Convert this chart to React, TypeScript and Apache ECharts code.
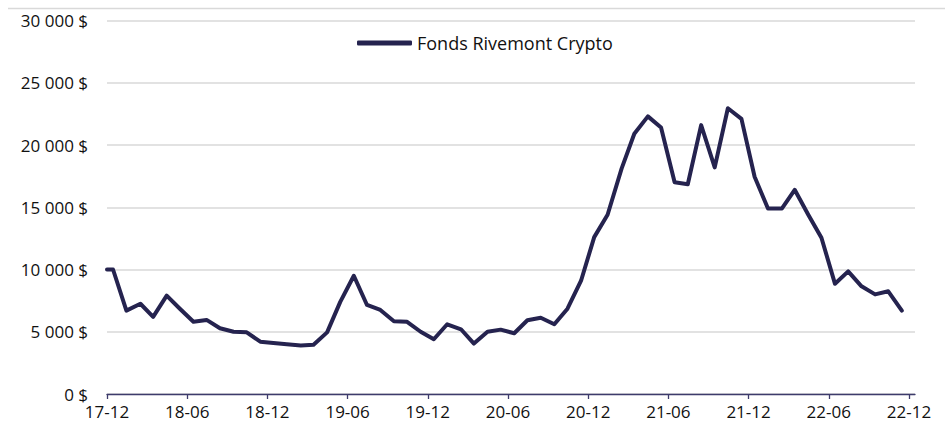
import React, { useEffect, useRef } from "react";
import * as echarts from "echarts";

const dates = [
  "2017-12-01", "2017-12-15", "2018-01-15", "2018-02-15", "2018-03-15", "2018-04-15", "2018-05-15",
  "2018-06-15", "2018-07-15", "2018-08-15", "2018-09-15", "2018-10-15", "2018-11-15",
  "2018-12-15", "2019-01-15", "2019-02-15", "2019-03-15", "2019-04-15", "2019-05-15",
  "2019-06-15", "2019-07-15", "2019-08-15", "2019-09-15", "2019-10-15", "2019-11-15",
  "2019-12-15", "2020-01-15", "2020-02-15", "2020-03-15", "2020-04-15", "2020-05-15",
  "2020-06-15", "2020-07-15", "2020-08-15", "2020-09-15", "2020-10-15", "2020-11-15",
  "2020-12-15", "2021-01-15", "2021-02-15", "2021-03-15", "2021-04-15", "2021-05-15",
  "2021-06-15", "2021-07-15", "2021-08-15", "2021-09-15", "2021-10-15", "2021-11-15",
  "2021-12-15", "2022-01-15", "2022-02-15", "2022-03-15", "2022-04-15", "2022-05-15",
  "2022-06-15", "2022-07-15", "2022-08-15", "2022-09-15", "2022-10-15", "2022-11-15",
];

const fundValues = [
  10000, 10000, 6700, 7250, 6200, 7900, 6850,
  5800, 5950, 5280, 5000, 4950, 4200,
  4100, 4000, 3900, 3950, 4950, 7400,
  9500, 7150, 6750, 5850, 5800, 5000,
  4400, 5600, 5200, 4050, 5000, 5170,
  4880, 5920, 6130, 5600, 6850, 9100,
  12600, 14400, 18100, 20900, 22300, 21400,
  17000, 16850, 21600, 18200, 22950, 22100,
  17450, 14900, 14900, 16400, 14400, 12550,
  8850, 9850, 8650, 8000, 8250, 6700,
];

const tickDates = [
  "2017-12-01", "2018-06-01", "2018-12-01", "2019-06-01", "2019-12-01", "2020-06-01",
  "2020-12-01", "2021-06-01", "2021-12-01", "2022-06-01", "2022-12-01",
];
const tickLabels = ["17-12", "18-06", "18-12", "19-06", "19-12", "20-06", "20-12", "21-06", "21-12", "22-06", "22-12"];

const axisStart = "2017-12-01";
const axisEnd = "2022-12-15";
const seriesName = "Fonds Rivemont Crypto";

// convert a date to a (fractional) month count since the axis start
const toMonths = (d: string) => {
  const [y0, m0] = axisStart.split("-").map(Number);
  const [y, m, day] = d.split("-").map(Number);
  const dim = new Date(y, m, 0).getDate();
  return (y - y0) * 12 + (m - m0) + (day - 1) / dim;
};

export default function App() {
  const ref = useRef<HTMLDivElement>(null);
  useEffect(() => {
    if (!ref.current) return;
    const chart = echarts.init(ref.current, undefined, { renderer: "svg" });
    const tickVals = tickDates.map(toMonths);
    const font = "'Open Sans', 'Noto Sans', sans-serif";
    const lineColor = "#25234f";
    chart.setOption({
      animation: false,
      backgroundColor: "#ffffff",
      grid: { left: 107, right: 30, top: 20.5, bottom: 29 },
      legend: {
        left: 357,
        top: 34,
        padding: 0,
        itemWidth: 55,
        itemHeight: 5,
        icon: "roundRect",
        textStyle: { fontSize: 18, color: "#111111", fontFamily: font },
        data: [seriesName],
      },
      graphic: [
        {
          type: "line",
          shape: { x1: 8, y1: 8.5, x2: 945, y2: 8.5 },
          style: { stroke: "#d9d9d9", lineWidth: 1.5 },
          silent: true,
          z: 10,
        },
      ],
      xAxis: {
        type: "value",
        min: toMonths(axisStart),
        max: toMonths(axisEnd),
        axisLine: { show: true, onZero: false, lineStyle: { color: "#3d3b6b", width: 1.3 } },
        axisTick: {
          show: true,
          length: 5,
          customValues: tickVals,
          lineStyle: { color: "#3d3b6b", width: 1.3 },
        },
        axisLabel: {
          customValues: tickVals,
          margin: 9,
          fontSize: 17,
          color: "#111111",
          fontFamily: font,
          formatter: (v: number) => {
            const i = tickVals.findIndex((t) => Math.abs(t - v) < 1e-6);
            return i >= 0 ? tickLabels[i] : "";
          },
        },
        splitLine: { show: false },
      },
      yAxis: {
        type: "value",
        min: 0,
        max: 30000,
        interval: 5000,
        axisLine: { show: false },
        axisTick: { show: false },
        axisLabel: {
          margin: 19,
          fontSize: 17,
          color: "#111111",
          fontFamily: font,
          formatter: (v: number) => `${String(v).replace(/\B(?=(\d{3})+(?!\d))/g, " ")} $`,
        },
        splitLine: { show: true, lineStyle: { color: "#d9d9d9", width: 1.5 } },
      },
      series: [
        {
          name: seriesName,
          type: "line",
          symbol: "none",
          data: dates.map((d, i) => [toMonths(d), fundValues[i]]),
          lineStyle: { color: lineColor, width: 4, cap: "round", join: "round" },
          itemStyle: { color: lineColor },
        },
      ],
    });
    return () => chart.dispose();
  }, []);
  return (
    <div
      ref={ref}
      style={{ position: "fixed", left: 0, top: 0, width: 945, height: 423 }}
    />
  );
}
